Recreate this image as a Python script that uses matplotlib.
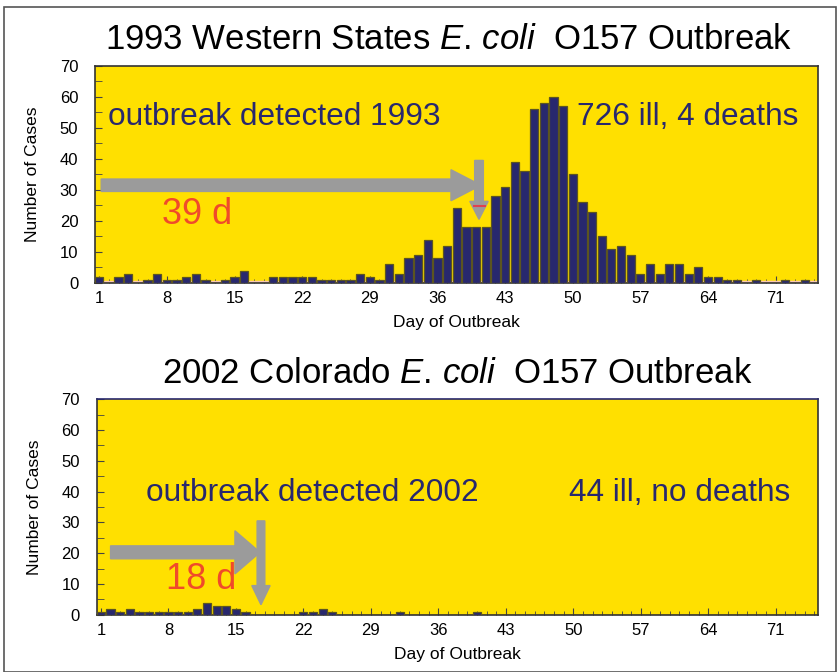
import matplotlib.pyplot as plt
import numpy as np
from matplotlib.patches import Rectangle

plt.rcParams['font.family'] = ['Liberation Sans', 'DejaVu Sans']
plt.rcParams['mathtext.fontset'] = 'custom'
plt.rcParams['mathtext.rm'] = 'Liberation Sans'
plt.rcParams['mathtext.it'] = 'Liberation Sans:italic'

# 1993 Western States outbreak, cases per day (days 1..75)
days_1993 = np.arange(1, 76)
cases_1993 = [2, 0, 2, 3, 0, 1, 3, 1, 1, 2, 3, 1, 0, 1, 2, 4, 0, 0, 2, 2,
              2, 2, 2, 1, 1, 1, 1, 3, 2, 1, 6, 3, 8, 9, 14, 8, 12, 24, 18, 18,
              18, 28, 31, 39, 36, 56, 58, 60, 57, 35, 26, 23, 15, 11, 12, 9, 3, 6, 3, 6,
              6, 3, 5, 2, 2, 1, 1, 0, 1, 0, 0, 1, 0, 1, 0]

# 2002 Colorado outbreak, cases per day
days_2002 = np.arange(1, 76)
cases_2002 = [1, 2, 1, 2, 1, 1, 1, 1, 1, 1, 2, 4, 3, 3, 2, 1, 0, 0, 0, 0,
              0, 1, 1, 2, 1, 0, 0, 0, 0, 0, 0, 1, 0, 0, 0, 0, 0, 0, 0, 1,
              0, 0, 0, 0, 0, 0, 0, 0, 0, 0, 0, 0, 0, 0, 0, 0, 0, 0, 0, 0,
              0, 0, 0, 0, 0, 0, 0, 0, 0, 0, 0, 0, 0, 0, 0]

xtick_days = [1, 8, 15, 22, 29, 36, 43, 50, 57, 64, 71]

YELLOW = '#ffe000'
NAVY = '#28286e'
GRAY = '#9b9b9b'
RED = '#f04a2a'

fig = plt.figure(figsize=(8.4, 6.72), dpi=100)
fig.patches.append(Rectangle((0.005, 0.0), 0.99, 0.99, transform=fig.transFigure,
                             fill=False, edgecolor='#555555', lw=1.2))


def setup_axes(ax, days, cases, title, title_x=0.5):
    ax.set_facecolor(YELLOW)
    ax.bar(days, cases, width=0.85, color=NAVY, edgecolor='#5c5520', linewidth=0.9, zorder=3)
    ax.set_xlim(0.55, 75.4)
    ax.set_ylim(0, 70)
    ax.set_yticks(range(0, 71, 10))
    ax.set_yticks(range(5, 70, 10), minor=True)
    ax.set_xticks(xtick_days)
    ax.set_xticks(days, minor=True)
    ax.tick_params(axis='both', direction='in', labelsize=12, length=5, color='#444444')
    ax.tick_params(axis='y', which='major', pad=12)
    ax.tick_params(axis='x', which='major', pad=6)
    ax.tick_params(axis='x', which='minor', direction='in', length=3, color='#444444')
    ax.tick_params(axis='y', which='minor', direction='in', length=5, color='#444444')
    ax.set_xlabel('Day of Outbreak', fontsize=12.5, labelpad=6)
    ax.set_ylabel('Number of Cases', fontsize=12.5, labelpad=14)
    ax.set_title(title, fontsize=25, pad=12, x=title_x)
    for s in ax.spines.values():
        s.set_color('#333333')
        s.set_linewidth(1.2)


# ---- top panel: 1993
ax1 = fig.add_axes([0.113, 0.579, 0.861, 0.323])
setup_axes(ax1, days_1993, cases_1993,
           r'1993 Western States $\mathit{E}$. $\mathit{coli}$  O157 Outbreak', title_x=0.489)
ax1.axhline(0.3, color='#f7c6b4', lw=2.5, zorder=2)

ax1.arrow(1.2, 31.5, 36.2, 0, width=4, head_width=10, head_length=3.1,
          length_includes_head=False, color=GRAY, zorder=5)
ax1.arrow(40.3, 39.5, 0, -13.2, width=0.9, head_width=1.9, head_length=5.8,
          length_includes_head=False, color=GRAY, zorder=5)
ax1.plot([39.8, 40.9], [24.8, 24.8], color='#e04050', lw=1.5, zorder=6)

ax1.text(1.9, 53.5, 'outbreak detected 1993', fontsize=22.8, color=NAVY, va='center', zorder=6)
ax1.text(50.4, 53.5, '726 ill, 4 deaths', fontsize=22.8, color=NAVY, va='center', zorder=6)
ax1.text(7.5, 22, '39 d', fontsize=26, color=RED, va='center', zorder=6)

# ---- bottom panel: 2002
ax2 = fig.add_axes([0.115, 0.085, 0.859, 0.321])
setup_axes(ax2, days_2002, cases_2002, r'2002 Colorado $\mathit{E}$. $\mathit{coli}$  O157 Outbreak')
ax2.spines['top'].set_color('#28286e')

ax2.arrow(2.0, 20.3, 12.9, 0, width=4.2, head_width=14, head_length=2.6,
          length_includes_head=False, color=GRAY, zorder=5)
ax2.arrow(17.6, 30.5, 0, -21.0, width=0.8, head_width=1.9, head_length=6.2,
          length_includes_head=False, color=GRAY, zorder=5)

ax2.text(5.7, 39.5, 'outbreak detected 2002', fontsize=22.8, color=NAVY, va='center', zorder=6)
ax2.text(49.6, 39.5, '44 ill, no deaths', fontsize=22.8, color=NAVY, va='center', zorder=6)
ax2.text(7.7, 11.5, '18 d', fontsize=26, color=RED, va='center', zorder=6)

fig.savefig('out.png', dpi=100)
plt.close(fig)
